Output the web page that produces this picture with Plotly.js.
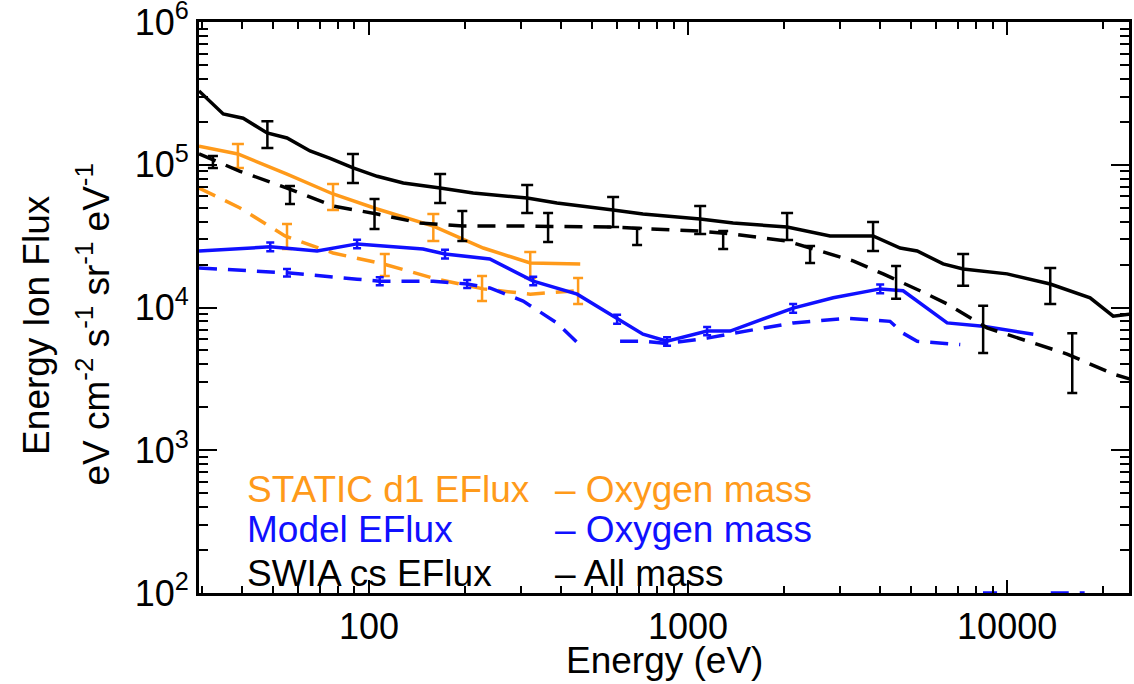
<!DOCTYPE html>
<html>
<head>
<meta charset="utf-8">
<script src="https://cdn.plot.ly/plotly-3.0.1.min.js"></script>
<style>html,body{margin:0;padding:0;background:#fff;}#chart{width:1134px;height:684px;}</style>
</head>
<body>
<div id="chart"></div>
<script>
// ---- SWIA cs EFlux, all mass (black) ----
const swiaSolidE = [29.3, 34.9, 40.3, 47.9, 55.3, 65.3, 75.5, 89.1, 106, 128, 167, 212, 313, 388, 582, 722, 1091, 1384, 2043, 2786, 3800, 4620, 5225, 6300, 7280, 10000, 13650, 18200, 21500, 24300];
const swiaSolidF = [3.29e5, 2.27e5, 2.12e5, 1.67e5, 1.54e5, 1.25e5, 1.11e5, 9.5e4, 8.3e4, 7.45e4, 6.87e4, 6.34e4, 5.85e4, 5.39e4, 4.82e4, 4.52e4, 4.17e4, 3.91e4, 3.66e4, 3.17e4, 3.17e4, 2.61e4, 2.49e4, 2.02e4, 1.86e4, 1.72e4, 1.46e4, 1.17e4, 8.7e3, 9.0e3];
const swiaSolidErrE  = [48, 89, 167, 313, 582, 1091, 2043, 3800, 7280, 13650];
const swiaSolidErrHi = [2.02e5, 1.19e5, 8.6e4, 7.2e4, 5.94e4, 5.14e4, 4.59e4, 3.97e4, 2.37e4, 1.89e4];
const swiaSolidErrLo = [1.31e5, 7.45e4, 5.4e4, 4.59e4, 3.66e4, 3.27e4, 2.97e4, 2.49e4, 1.42e4, 1.06e4];

const swiaDashE = [29.3, 39.4, 55.3, 77.1, 106, 144.5, 197, 304, 569, 1091, 1384, 2043, 3289, 4086, 5330, 6486, 8650, 11550, 15420, 21500, 24300];
const swiaDashF = [1.19e5, 9.0e4, 6.87e4, 5.14e4, 4.52e4, 3.91e4, 3.72e4, 3.72e4, 3.66e4, 3.43e4, 3.27e4, 2.92e4, 2.12e4, 1.72e4, 1.31e4, 1.06e4, 7.2e3, 5.8e3, 4.72e3, 3.42e3, 3.15e3];
const swiaDashErrE  = [32.4, 56.5, 104, 196, 364, 692, 1288, 2412, 4487, 8410, 16000];
const swiaDashErrHi = [1.15e5, 7.1e4, 5.75e4, 4.74e4, 4.59e4, 3.61e4, 3.44e4, 2.7e4, 1.95e4, 1.03e4, 6.6e3];
const swiaDashErrLo = [9.5e4, 5.3e4, 3.55e4, 2.92e4, 2.88e4, 2.74e4, 2.57e4, 2.05e4, 1.15e4, 4.8e3, 2.52e3];

// ---- STATIC d1 EFlux, oxygen mass (orange) ----
const staticSolidE = [29.3, 38.8, 55.3, 77.1, 106, 159, 228, 320, 459];
const staticSolidF = [1.35e5, 1.19e5, 8.6e4, 6.24e4, 4.9e4, 3.72e4, 2.61e4, 2.05e4, 2.02e4];
const staticSolidErrE  = [38.8, 77.1, 159, 320];
const staticSolidErrHi = [1.40e5, 7.33e4, 4.52e4, 2.45e4];
const staticSolidErrLo = [9.5e4, 4.82e4, 2.92e4, 1.61e4];

const staticDashE = [29.3, 39.4, 54.5, 77.1, 110.6, 163, 228, 320, 449];
const staticDashF = [6.87e4, 4.98e4, 3.17e4, 2.41e4, 2.02e4, 1.58e4, 1.35e4, 1.24e4, 1.31e4];
const staticDashErrE  = [55.3, 112, 226, 452];
const staticDashErrHi = [3.85e4, 2.37e4, 1.66e4, 1.61e4];
const staticDashErrLo = [2.57e4, 1.66e4, 1.11e4, 1.06e4];

// ---- Model EFlux, oxygen mass (blue) ----
const modelSolidE = [29.3, 49, 68.7, 91.7, 147.6, 173, 239, 327, 449, 599, 722, 859, 1147, 1355, 2134, 2851, 4000, 4720, 6486, 8410, 12080];
const modelSolidF = [2.49e4, 2.66e4, 2.49e4, 2.79e4, 2.57e4, 2.37e4, 2.19e4, 1.53e4, 1.24e4, 8.3e3, 6.5e3, 5.8e3, 6.84e3, 6.84e3, 9.9e3, 1.17e4, 1.35e4, 1.31e4, 7.8e3, 7.4e3, 6.5e3];
const modelSolidErrE  = [49, 91.7, 173, 327, 599, 859, 1147, 2134, 4000];
const modelSolidErrHi = [2.85e4, 2.98e4, 2.54e4, 1.64e4, 8.9e3, 6.2e3, 7.3e3, 1.06e4, 1.45e4];
const modelSolidErrLo = [2.48e4, 2.6e4, 2.2e4, 1.43e4, 7.7e3, 5.4e3, 6.4e3, 9.2e3, 1.26e4];

const modelDashE = [29.3, 55.3, 91.7, 108, 159, 203, 239, 304, 388, 452, null, 612, 722, 859, 1147, 1384, 2134, 3148, 4295, 4720, 5225, 7130];
const modelDashF = [1.89e4, 1.75e4, 1.58e4, 1.53e4, 1.53e4, 1.46e4, 1.37e4, 1.11e4, 7.8e3, 5.6e3, null, 5.8e3, 5.8e3, 5.6e3, 6.1e3, 6.6e3, 7.8e3, 8.4e3, 8.0e3, 6.6e3, 5.8e3, 5.5e3];
const modelDashErrE  = [55.3, 108, 203];
const modelDashErrHi = [1.86e4, 1.63e4, 1.56e4];
const modelDashErrLo = [1.65e4, 1.43e4, 1.37e4];
const modelLowE = [8400, 9300, null, 13700, 17500];
const modelLowF = [100, 100, null, 100, 100];

// ---- axis ticks & text ----
const xTickVals = [100, 1000, 10000];
const xTickText = ['100', '1000', '10000'];
const yTickVals = [1e2, 1e3, 1e4, 1e5, 1e6];
const yTickText = ['10<sup>2</sup>', '10<sup>3</sup>', '10<sup>4</sup>', '10<sup>5</sup>', '10<sup>6</sup>'];
const minorDigits = [2, 3, 4, 5, 6, 7, 8, 9];
const xMinorDecades = [10, 100, 1000, 10000];
const yMinorDecades = [100, 1000, 10000, 100000];
const xTitle = 'Energy (eV)';
const yTitleLines = ['Energy Ion Flux', 'eV cm<sup>-2</sup> s<sup>-1</sup> sr<sup>-1</sup> eV<sup>-1</sup>'];
const legendRows = [
  ['STATIC d1 EFlux', '\u2013 Oxygen mass'],
  ['Model EFlux', '\u2013 Oxygen mass'],
  ['SWIA cs EFlux', '\u2013 All mass']
];

const ORANGE = '#ff9a1a';
const BLUE = '#1010ff';
const BLACK = '#000000';
const FONT = 'Liberation Sans, Arial, Helvetica, sans-serif';
const DASH = '18px,11px';

function minorVals(decades) {
  const v = [];
  decades.forEach(d => minorDigits.forEach(k => v.push(d * k)));
  return v;
}
function line(x, y, color, dash) {
  return {x: x, y: y, type: 'scatter', mode: 'lines', connectgaps: false,
    line: {color: color, width: 3.5, dash: dash || 'solid'}, hoverinfo: 'skip', showlegend: false};
}
function errs(x, hi, lo, color, cap) {
  const mid = hi.map((h, i) => Math.sqrt(h * lo[i]));
  return {x: x, y: mid, type: 'scatter', mode: 'markers', marker: {size: 1, color: 'rgba(0,0,0,0)'},
    error_y: {type: 'data', symmetric: false,
      array: hi.map((h, i) => h - mid[i]), arrayminus: lo.map((l, i) => mid[i] - l),
      color: color, thickness: 2.5, width: cap},
    hoverinfo: 'skip', showlegend: false};
}

const data = [
  line(staticDashE, staticDashF, ORANGE, DASH),
  errs(staticDashErrE, staticDashErrHi, staticDashErrLo, ORANGE, 5),
  line(staticSolidE, staticSolidF, ORANGE),
  errs(staticSolidErrE, staticSolidErrHi, staticSolidErrLo, ORANGE, 6),
  line(modelDashE, modelDashF, BLUE, DASH),
  errs(modelDashErrE, modelDashErrHi, modelDashErrLo, BLUE, 4),
  line(modelSolidE, modelSolidF, BLUE),
  errs(modelSolidErrE, modelSolidErrHi, modelSolidErrLo, BLUE, 4),
  line(modelLowE, modelLowF, BLUE, DASH),
  line(swiaDashE, swiaDashF, BLACK, DASH),
  errs(swiaDashErrE, swiaDashErrHi, swiaDashErrLo, BLACK, 5),
  line(swiaSolidE, swiaSolidF, BLACK),
  errs(swiaSolidErrE, swiaSolidErrHi, swiaSolidErrLo, BLACK, 6)
];

const annotations = [];
const rowY = [0.182, 0.112, 0.035];
const rowColor = [ORANGE, BLUE, BLACK];
legendRows.forEach((r, i) => {
  annotations.push({xref: 'paper', yref: 'paper', x: 0.0495, y: rowY[i], xanchor: 'left', yanchor: 'middle',
    text: r[0], showarrow: false, font: {family: FONT, size: 37, color: rowColor[i]}});
  annotations.push({xref: 'paper', yref: 'paper', x: 0.381, y: rowY[i], xanchor: 'left', yanchor: 'middle',
    text: r[1], showarrow: false, font: {family: FONT, size: 37, color: rowColor[i]}});
});
annotations.push({xref: 'paper', yref: 'paper', x: -0.175, y: 0.47, xanchor: 'center', yanchor: 'middle',
  textangle: -90, text: yTitleLines[0], showarrow: false, font: {family: FONT, size: 37, color: BLACK}});
annotations.push({xref: 'paper', yref: 'paper', x: -0.113, y: 0.47, xanchor: 'center', yanchor: 'middle',
  textangle: -90, text: yTitleLines[1], showarrow: false, font: {family: FONT, size: 37, color: BLACK}});
annotations.push({xref: 'paper', yref: 'paper', x: 0.5, y: -0.118, xanchor: 'center', yanchor: 'middle',
  text: xTitle, showarrow: false, font: {family: FONT, size: 37, color: BLACK}});

const layout = {
  width: 1134, height: 684,
  margin: {l: 199, r: 5, t: 22, b: 91},
  paper_bgcolor: '#ffffff', plot_bgcolor: '#ffffff',
  showlegend: false,
  font: {family: FONT, size: 36, color: BLACK},
  xaxis: {
    type: 'log', range: [Math.log10(29.3), Math.log10(24100)],
    showline: true, linecolor: BLACK, linewidth: 3, mirror: 'allticks',
    ticks: 'inside', ticklen: 13, tickwidth: 2, tickcolor: BLACK,
    tickmode: 'array', tickvals: xTickVals, ticktext: xTickText,
    tickfont: {family: FONT, size: 36, color: BLACK}, ticklabeloverflow: 'allow',
    minor: {tickmode: 'array', tickvals: minorVals(xMinorDecades), ticks: 'inside', ticklen: 7, tickwidth: 2, tickcolor: BLACK, showgrid: false},
    showgrid: false, zeroline: false
  },
  yaxis: {
    type: 'log', range: [2, 6],
    showline: true, linecolor: BLACK, linewidth: 3, mirror: 'allticks',
    ticks: 'inside', ticklen: 18, tickwidth: 2, tickcolor: BLACK,
    tickmode: 'array', tickvals: yTickVals, ticktext: yTickText,
    tickfont: {family: FONT, size: 36, color: BLACK}, ticklabeloverflow: 'allow',
    minor: {tickmode: 'array', tickvals: minorVals(yMinorDecades), ticks: 'inside', ticklen: 9, tickwidth: 2, tickcolor: BLACK, showgrid: false},
    showgrid: false, zeroline: false
  },
  annotations: annotations
};

Plotly.newPlot('chart', data, layout, {staticPlot: true, displayModeBar: false});
</script>
</body>
</html>
